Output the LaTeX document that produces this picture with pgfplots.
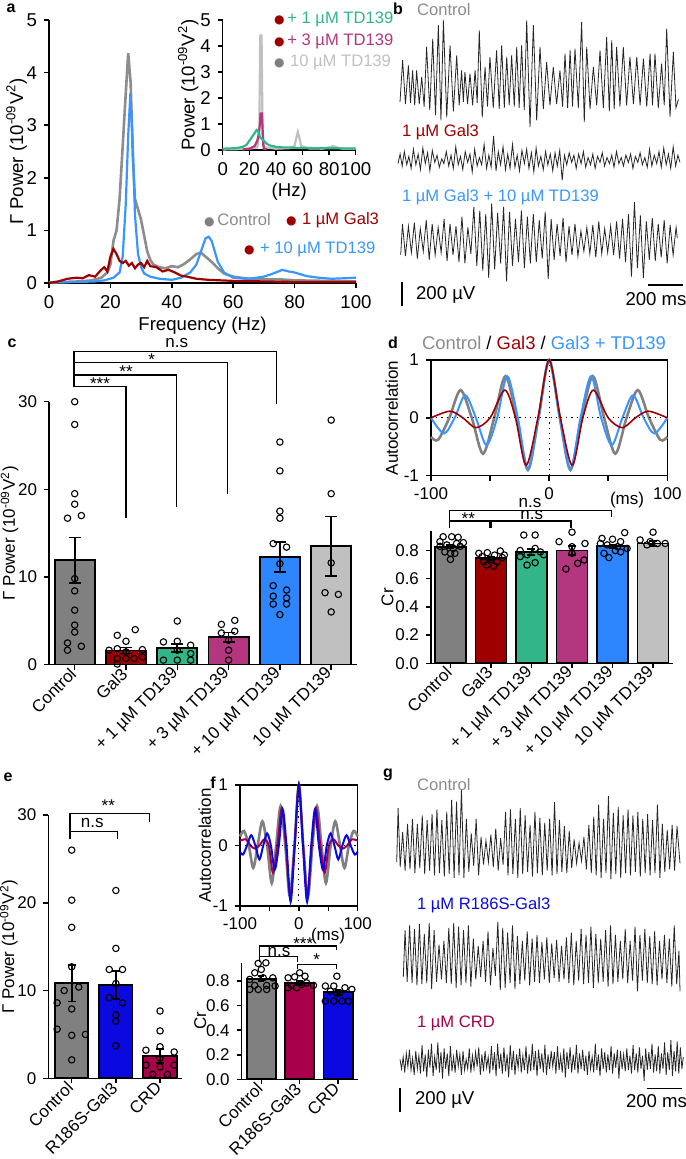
\documentclass[border=0pt]{standalone}
\usepackage{fontspec}
\setmainfont{Liberation Sans}
\newfontfamily\djvfont{DejaVu Sans}
\usepackage{pgfplots}
\pgfplotsset{compat=1.18}

\definecolor{cgray}{HTML}{808080}
\definecolor{cgtxt}{HTML}{8C8C8C}
\definecolor{cred}{HTML}{9E0000}
\definecolor{cgreen}{HTML}{33B58A}
\definecolor{cmag}{HTML}{B3367F}
\definecolor{cblue}{HTML}{2E86FF}
\definecolor{lblue}{HTML}{3A96FF}
\definecolor{clgray}{HTML}{C0C0C0}
\definecolor{rblue}{HTML}{0A0AE0}
\definecolor{crim}{HTML}{A8004A}

\newcommand\fa{\fontsize{9.3}{10}\selectfont}
\newcommand\fb{\fontsize{8.3}{9}\selectfont}
\newcommand\fc{\fontsize{8.5}{9.5}\selectfont}
\newcommand\fl{\fontsize{8}{9}\selectfont\bfseries}
\newcommand\sq[1]{\textsuperscript{#1}}
\newcommand\ldot[1]{\textcolor{#1}{\fontsize{6}{6}\djvfont ●}}

\pgfplotsset{
  base/.style={scale only axis, anchor=south west, clip=false,
    /pgf/number format/assume math mode=true,
    axis line style={line width=0.75pt},
    tick style={black, line width=0.75pt},
    major tick length=2.5pt, tick align=outside,
    tick label style={font=\fc}, label style={font=\fc}},
  rotlab/.style={xticklabel style={rotate=45, anchor=east, inner sep=1pt}},
  bars/.style={ybar, bar shift=0pt, draw=black, line width=0.9pt},
  dots/.style={only marks, mark=o, black, mark size=1.6pt, mark options={line width=0.55pt}},
  err/.style={draw=none, mark=none,
    error bars/y dir=both, error bars/y explicit,
    error bars/error bar style={draw=black, line width=0.9pt},
    error bars/error mark options={draw=black, rotate=90, line width=0.9pt, mark size=#1}},
  trace/.style={scale only axis, anchor=south west, hide axis, clip=false},
  tr/.style={black!85, line width=0.4pt},
}

\begin{document}
\begin{tikzpicture}
\path[use as bounding box] (0,0) rectangle (342.5pt,-579.5pt);

% ---------------- a: spectrum
\begin{axis}[base, at={(49*0.5pt,-283*0.5pt)}, width=153.5pt, height=131.5pt,
  axis lines*=left, xmin=0, xmax=100, ymin=0, ymax=5,
  xtick={0,20,...,100}, ytick={0,1,...,5},
  tick label style={font=\fa}, label style={font=\fa},
  ylabel shift=-7pt, xlabel style={yshift=2.5pt},
  xlabel={Frequency (Hz)}, ylabel={Γ Power (10\sq{-09}V\sq{2})}]
\addplot[cgray!90, line width=1.3pt] coordinates {(0,0.01)(5,0.02)(10,0.03)(14,0.05)(17,0.1)(19,0.2)(20,0.35)(21,0.8)(22,1.0)(23,1.6)(24,2.6)(25,3.6)(25.8,4.37)(26.6,3.8)(27.3,2.4)(28,1.6)(29,1.4)(30,1.2)(31,0.9)(32,0.6)(33,0.44)(34,0.35)(36,0.3)(38,0.28)(40,0.32)(42,0.3)(44,0.36)(46,0.45)(48,0.55)(49.5,0.58)(51,0.5)(53,0.4)(55,0.28)(57,0.18)(60,0.12)(65,0.08)(70,0.07)(75,0.07)(80,0.05)(90,0.04)(100,0.03)};
\addplot[lblue, line width=1.1pt] coordinates {(0,0.01)(10,0.02)(15,0.03)(18,0.05)(21,0.1)(23,0.2)(24,0.5)(25,1.5)(25.8,2.8)(26.5,3.6)(27.2,2.8)(28,1.3)(29,0.55)(30,0.3)(31,0.18)(33,0.12)(36,0.08)(40,0.06)(43,0.1)(46,0.2)(48,0.35)(49.5,0.6)(51,0.85)(52,0.88)(53,0.8)(54,0.6)(55,0.4)(57,0.2)(60,0.1)(65,0.08)(70,0.12)(73,0.18)(76,0.25)(78,0.22)(80,0.2)(84,0.13)(88,0.1)(92,0.08)(96,0.09)(100,0.1)};
\addplot[cred, line width=1.1pt] coordinates {(0,0.0)(3,0.03)(6,0.08)(9,0.1)(11,0.09)(13,0.15)(15,0.12)(17,0.25)(18,0.3)(19,0.22)(20,0.5)(21,0.65)(22,0.55)(23,0.42)(24,0.38)(25,0.42)(26,0.33)(27,0.38)(28,0.28)(29,0.35)(30,0.38)(31,0.3)(32,0.42)(33,0.32)(35,0.3)(37,0.22)(39,0.25)(41,0.2)(43,0.14)(45,0.12)(48,0.08)(52,0.06)(56,0.05)(60,0.04)(70,0.03)(80,0.02)(90,0.02)(100,0.02)};
\end{axis}

\begin{axis}[base, at={(222.7*0.5pt,-150*0.5pt)}, width=66.5pt, height=65pt,
  axis lines*=left, xmin=0, xmax=100, ymin=0, ymax=5,
  xtick={0,20,...,100}, ytick={0,1,...,5},
  tick label style={font=\fa}, label style={font=\fa},
  ylabel shift=-6pt, xlabel style={yshift=3pt},
  xlabel={(Hz)}, ylabel={Power (10\sq{-09}V\sq{2})}]
\addplot[clgray, line width=1.1pt] coordinates {(0,0.02)(10,0.03)(20,0.05)(26,0.1)(27.5,0.6)(28.2,4.4)(29.2,4.4)(30,0.6)(31.5,0.1)(40,0.05)(50,0.07)(54,0.15)(55.5,0.5)(56.5,0.7)(57.5,0.5)(59,0.15)(65,0.06)(75,0.05)(80,0.1)(83,0.15)(86,0.1)(90,0.05)(100,0.05)};
\addplot[cmag, line width=1.1pt] coordinates {(15,0.02)(20,0.05)(24,0.15)(26,0.35)(27,0.6)(28,1.0)(28.5,1.4)(29.5,1.4)(30,0.8)(30.5,0.2)(31,0.05)(33,0.02)};
\addplot[cgreen, line width=1.1pt] coordinates {(0,0.05)(10,0.07)(15,0.12)(18,0.2)(20,0.35)(22,0.5)(24,0.65)(25.5,0.77)(27,0.7)(28,0.5)(29,0.45)(31,0.35)(33,0.25)(35,0.18)(38,0.15)(40,0.12)(45,0.1)(50,0.1)(55,0.08)(60,0.08)(70,0.07)(80,0.07)(90,0.06)(100,0.06)};
\end{axis}

% ---------------- b: traces
\begin{axis}[trace, at={(400*0.5pt,-121*0.5pt)}, width=139.2pt, height=51pt, xmin=0, xmax=1591, ymin=-200, ymax=650]
\addplot[tr] coordinates {(0,-40)(15,306)(31,-60)(48,264)(60,-50)(72,222)(84,-70)(95,222)(110,-60)(124,167)(138,-80)(152,417)(170,-110)(187,486)(203,-150)(219,598)(234,-195)(248,639)(267,-170)(286,431)(305,-120)(324,347)(338,-70)(352,222)(362,-40)(371,208)(386,-60)(400,195)(415,-70)(429,222)(441,-50)(453,556)(470,-170)(486,250)(500,-80)(514,334)(533,-90)(552,389)(567,-100)(581,431)(596,-90)(610,334)(624,-70)(638,347)(653,-80)(667,417)(681,-90)(695,431)(710,-110)(724,639)(743,-250)(762,598)(781,-195)(800,417)(819,-100)(838,292)(857,-70)(876,250)(895,-60)(914,222)(929,-80)(943,361)(958,-90)(972,389)(986,-80)(1000,403)(1019,-90)(1038,625)(1053,-210)(1067,417)(1086,-100)(1105,250)(1124,-70)(1143,389)(1162,-90)(1181,500)(1196,-120)(1210,472)(1224,-100)(1238,417)(1257,-80)(1276,417)(1295,-70)(1314,334)(1334,-60)(1353,334)(1372,-70)(1391,320)(1410,-80)(1429,361)(1443,-70)(1457,361)(1476,-90)(1495,278)(1510,-70)(1524,570)(1543,-165)(1562,375)(1577,-90)(1591,-20)};
\end{axis}
\begin{axis}[trace, at={(398*0.5pt,-186.4*0.5pt)}, width=141pt, height=26.4pt, xmin=0, xmax=1611, ymin=-220, ymax=220]
\addplot[tr] coordinates {(0,-30)(12,50)(24,-50)(36,70)(50,-40)(62,30)(75,-70)(88,90)(102,-40)(115,50)(128,-80)(142,100)(156,-30)(169,60)(182,-90)(196,80)(210,-20)(223,40)(236,-60)(250,10)(262,-30)(276,70)(290,-50)(303,40)(316,-70)(330,110)(344,-40)(357,30)(370,-80)(384,70)(398,-20)(411,50)(424,-100)(438,90)(452,-50)(465,20)(478,-40)(492,130)(506,-70)(519,40)(532,-60)(546,200)(560,-90)(573,70)(586,-40)(600,110)(614,-80)(627,50)(640,-70)(654,130)(668,-60)(681,40)(694,-90)(708,80)(722,-30)(735,90)(748,-70)(762,60)(776,-100)(789,100)(802,-50)(816,30)(830,-80)(843,70)(856,-40)(870,50)(884,-90)(897,60)(910,-50)(924,80)(938,-170)(951,40)(964,-40)(978,60)(992,-20)(1005,40)(1018,-70)(1032,50)(1046,-30)(1059,70)(1072,-60)(1086,20)(1100,-40)(1113,50)(1126,-70)(1140,30)(1154,-20)(1167,60)(1180,-50)(1194,20)(1208,-30)(1221,40)(1234,-60)(1248,70)(1262,-30)(1275,20)(1288,-50)(1302,40)(1316,-20)(1329,50)(1342,-70)(1356,30)(1370,-20)(1383,60)(1396,-40)(1410,20)(1424,-60)(1437,90)(1450,-50)(1464,40)(1478,-30)(1491,70)(1504,-60)(1518,100)(1532,-40)(1545,50)(1558,-70)(1572,110)(1586,-50)(1599,40)(1611,-20)};
\end{axis}
\begin{axis}[trace, at={(400.7*0.5pt,-286.2*0.5pt)}, width=138.3pt, height=43.2pt, xmin=0, xmax=1581, ymin=-360, ymax=360]
\addplot[tr] coordinates {(0,-100)(10,160)(27,-110)(44,140)(61,-80)(78,170)(95,-130)(112,120)(129,-70)(146,190)(163,-140)(180,160)(197,-100)(214,130)(231,-80)(248,200)(265,-150)(282,160)(299,-100)(316,140)(333,-160)(350,220)(367,-170)(384,130)(401,-90)(418,300)(435,-190)(452,270)(469,-230)(486,240)(503,-290)(520,330)(537,-220)(554,250)(571,-170)(588,300)(605,-320)(622,260)(639,-190)(656,200)(673,-160)(690,270)(707,-210)(724,220)(741,-170)(758,240)(775,-160)(792,190)(809,-130)(826,260)(843,-300)(860,200)(877,-140)(894,160)(911,-110)(928,210)(945,-160)(962,140)(979,-100)(996,160)(1013,-110)(1030,100)(1047,-70)(1064,130)(1081,-90)(1098,150)(1115,-120)(1132,180)(1149,-90)(1166,120)(1183,-80)(1200,140)(1217,-100)(1234,180)(1251,-130)(1268,200)(1285,-160)(1302,240)(1319,-280)(1336,340)(1353,-210)(1370,230)(1387,-290)(1404,180)(1421,-140)(1438,210)(1455,-150)(1472,160)(1489,-120)(1506,190)(1523,-170)(1540,150)(1557,-100)(1574,130)(1581,40)};
\end{axis}

% ---------------- c: gamma power bars
\begin{axis}[base, rotlab, at={(49.05*0.5pt,-664.5*0.5pt)}, width=153.9pt, height=131.4pt,
  axis lines*=left, xmin=-0.5, xmax=5.5, ymin=0, ymax=30,
  xtick={0,...,5}, ytick={0,10,20,30},
  xticklabels={Control, Gal3, + 1 µM TD139, + 3 µM TD139, + 10 µM TD139, 10 µM TD139},
  ylabel shift=-7pt,
  ylabel={Γ Power (10\sq{-09}V\sq{2})}]
\addplot[bars, bar width=0.78, fill=cgray] coordinates {(0,11.9)};
\addplot[bars, bar width=0.78, fill=cred] coordinates {(1,1.6)};
\addplot[bars, bar width=0.78, fill=cgreen] coordinates {(2,1.86)};
\addplot[bars, bar width=0.78, fill=cmag] coordinates {(3,3.1)};
\addplot[bars, bar width=0.78, fill=cblue] coordinates {(4,12.3)};
\addplot[bars, bar width=0.78, fill=clgray] coordinates {(5,13.5)};
\addplot[dots] coordinates {(0,30)(0,27.4)(0,19.5)(0,18.3)(0.13,17.0)(-0.14,16.7)(0,9.8)(0,8.4)(0,6.2)(0,4.5)(0,3.7)(-0.14,2.46)(0.13,2.08)(-0.14,1.63)
 (0.67,1.63)(0.83,3.33)(1,2.65)(1.18,3.98)(0.83,1.8)(1.32,1.7)(0.83,0.68)(1,0.68)(1.16,0.68)(1.32,0.87)(0.83,0.05)(1,1.44)
 (2,4.96)(1.73,2.58)(2,2.65)(2.26,2.2)(2,1.63)(2.26,1.25)(1.73,0.5)(2,0.5)(2.26,0.5)
 (2.86,4.58)(3.12,5.04)(2.86,3.6)(3.12,3.8)(3,2.77)(3,1.63)(3,0.5)
 (4,25.4)(4,22.1)(4,17.5)(4,16.7)(3.87,13.8)(4.13,13.4)(4,11.5)(3.87,9.0)(4.13,8.5)(3.87,7.8)(4.13,7.6)(3.87,6.9)(4.13,6.9)(4,5.7)
 (5,27.9)(5,19.5)(5,11.6)(4.88,8.2)(5.14,8.0)(5,6.0)};
\addplot[err=3pt] coordinates {(0,11.9) +- (0,2.6) (1,1.6) +- (0,0.35) (2,1.86) +- (0,0.45) (3,3.1) +- (0,0.55) (4,12.3) +- (0,1.7) (5,13.5) +- (0,3.4)};
\end{axis}

% ---------------- d: autocorrelation
\begin{axis}[base, at={(431*0.5pt,-475.7*0.5pt)}, width=118.15pt, height=57.85pt,
  xmin=-100, xmax=100, ymin=-1, ymax=1,
  xtick={-100,-50,0,50,100}, xticklabels={-100,,0,,100}, ytick={-1,0,1},
  xtick pos=bottom, ytick pos=left, ylabel shift=-4pt,
  ylabel={Autocorrelation}]
\addplot[cgray, line width=1.3pt, smooth] coordinates {(-100,-0.33)(-94,-0.38)(-84.5,0)(-75,0.48)(-65.5,0)(-56,-0.62)(-46.5,0)(-37,0.72)(-27.5,0)(-18,-0.9)(-9,0)(0,1)(9,0)(18,-0.9)(27.5,0)(37,0.72)(46.5,0)(56,-0.62)(65.5,0)(75,0.48)(84.5,0)(94,-0.38)(100,-0.33)};
\addplot[lblue, line width=1pt, smooth] coordinates {(-100,0)(-89,-0.27)(-80,0)(-71,0.39)(-62,0)(-53,-0.47)(-44,0)(-35.5,0.72)(-26.5,0)(-18,-0.88)(-9,0)(0,1)(9,0)(18,-0.88)(26.5,0)(35.5,0.72)(44,0)(53,-0.47)(62,0)(71,0.39)(80,0)(89,-0.27)(100,0)};
\addplot[cred, line width=0.8pt, smooth] coordinates {(-100,0)(-84,0.115)(-73,0)(-62,-0.17)(-50,0)(-37.5,0.48)(-28.5,0)(-19.5,-0.82)(-9.5,0)(0,1)(9.5,0)(19.5,-0.82)(28.5,0)(37.5,0.48)(50,0)(62,-0.17)(73,0)(84,0.115)(100,0)};
\draw[dotted, line width=0.6pt] (axis cs:-100,0) -- (axis cs:100,0);
\draw[dotted, line width=0.6pt] (axis cs:0,-1) -- (axis cs:0,1);
\end{axis}

\begin{axis}[base, rotlab, at={(431*0.5pt,-663.3*0.5pt)}, width=121.15pt, height=66.25pt,
  axis lines*=left, xmin=-0.48, xmax=5.5, ymin=0, ymax=0.94,
  xtick={0,...,5}, ytick={0,0.2,0.4,0.6,0.8}, yticklabels={0.0,0.2,0.4,0.6,0.8},
  xticklabels={Control, Gal3, + 1 µM TD139, + 3 µM TD139, + 10 µM TD139, 10 µM TD139},
  ylabel shift=-6pt,
  ylabel={Cr}]
\addplot[bars, bar width=0.765, fill=cgray] coordinates {(0,0.827)};
\addplot[bars, bar width=0.765, fill=cred] coordinates {(1,0.745)};
\addplot[bars, bar width=0.765, fill=cgreen] coordinates {(2,0.79)};
\addplot[bars, bar width=0.765, fill=cmag] coordinates {(3,0.80)};
\addplot[bars, bar width=0.765, fill=cblue] coordinates {(4,0.83)};
\addplot[bars, bar width=0.765, fill=clgray] coordinates {(5,0.85)};
\addplot[dots] coordinates {(-0.18,0.898)(0.03,0.898)(0.19,0.894)(-0.26,0.863)(0.32,0.856)(-0.09,0.84)(0.07,0.815)(0,0.78)(0,0.737)(0.24,0.83)(-0.26,0.83)(0.15,0.85)(-0.14,0.79)(0.11,0.78)
 (0.7,0.78)(0.91,0.785)(1.23,0.797)(1.09,0.768)(1.33,0.768)(0.78,0.757)(1,0.737)(1.15,0.72)(0.89,0.697)(1.07,0.69)(1.28,0.75)(0.82,0.72)
 (1.81,0.91)(2.09,0.91)(1.72,0.80)(2.09,0.815)(1.89,0.77)(2.3,0.77)(1.72,0.757)(2.09,0.714)(1.89,0.697)(2.22,0.79)
 (3,0.93)(2.68,0.863)(3.32,0.85)(3,0.827)(3,0.78)(3.3,0.733)(3.14,0.709)(2.85,0.669)
 (4.3,0.927)(3.74,0.886)(4,0.88)(4.2,0.863)(3.7,0.85)(3.87,0.84)(4.36,0.815)(4.07,0.80)(4.2,0.79)(3.79,0.78)(3.91,0.75)(4.12,0.827)
 (5,0.93)(4.68,0.875)(4.93,0.863)(5.11,0.85)(5.3,0.85)(4.85,0.84)};
\addplot[err=2pt] coordinates {(0,0.827) +- (0,0.012) (1,0.745) +- (0,0.012) (2,0.79) +- (0,0.02) (3,0.80) +- (0,0.03) (4,0.83) +- (0,0.012) (5,0.85) +- (0,0.015)};
\end{axis}

% ---------------- e
\begin{axis}[base, rotlab, at={(48.3*0.5pt,-1078.3*0.5pt)}, width=66.7pt, height=131.65pt,
  axis lines*=left, xmin=-0.53, xmax=2.49, ymin=0, ymax=30,
  xtick={0,1,2}, ytick={0,10,20,30},
  xticklabels={Control, R186S-Gal3, CRD},
  ylabel shift=-7pt,
  ylabel={Γ Power (10\sq{-09}V\sq{2})}]
\addplot[bars, bar width=0.755, fill=cgray] coordinates {(0,10.85)};
\addplot[bars, bar width=0.755, fill=rblue] coordinates {(1,10.6)};
\addplot[bars, bar width=0.755, fill=crim] coordinates {(2,2.55)};
\addplot[dots] coordinates {(0,26.0)(0,20.3)(0,17.2)(0,12.7)(-0.17,10.0)(0.16,10.4)(-0.33,8.6)(0,7.9)(-0.33,5.6)(0,4.9)(0.31,5.0)(0,2.1)
 (1,21.4)(1,14.8)(0.85,12.4)(1.15,12.4)(1,10.8)(0.85,9.2)(1.15,8.6)(1,7.2)(1,6.5)(1,3.7)
 (2,7.67)(2,5.4)(2,3.6)(1.68,3.2)(2.32,3.0)(2,2.3)(1.68,1.5)(2.32,1.5)(1.83,0.46)(2.17,0.46)(2,1.3)};
\addplot[err=2pt] coordinates {(0,10.85) +- (0,2.1) (1,10.6) +- (0,1.6) (2,2.55) +- (0,0.8)};
\end{axis}

% ---------------- f
\begin{axis}[base, at={(240*0.5pt,-906*0.5pt)}, width=58.85pt, height=60.5pt,
  xmin=-100, xmax=100, ymin=-1, ymax=1,
  xtick={-100,-50,0,50,100}, xticklabels={-100,,0,,100}, ytick={-1,0,1},
  xtick pos=bottom, ytick pos=left, ylabel shift=-6pt,
  ylabel={Autocorrelation}]
\addplot[cgray, line width=1.3pt, smooth] coordinates {(-100,0.15)(-93,0.24)(-85,0)(-77.5,-0.37)(-70,0)(-62,0.4)(-54,0)(-46,-0.62)(-38.5,0)(-31,0.65)(-23,0)(-15.5,-0.84)(-7.5,0)(0,1)(7.5,0)(15.5,-0.84)(23,0)(31,0.65)(38.5,0)(46,-0.62)(54,0)(62,0.4)(70,0)(77.5,-0.37)(85,0)(93,0.24)(100,0.15)};
\addplot[crim, line width=1pt, smooth] coordinates {(-100,0.08)(-90,0.1)(-82,0)(-75,-0.05)(-67,0)(-59,0.1)(-51,0)(-44,-0.45)(-36.5,0)(-29,0.62)(-22,0)(-14.5,-0.85)(-7.2,0)(0,1)(7.2,0)(14.5,-0.85)(22,0)(29,0.62)(36.5,0)(44,-0.45)(51,0)(59,0.1)(67,0)(75,-0.05)(82,0)(90,0.1)(100,0.08)};
\addplot[rblue, line width=1pt, smooth] coordinates {(-100,-0.1)(-95,-0.15)(-88,0)(-81,0.17)(-74,0)(-67,-0.23)(-60.5,0)(-54,0.2)(-47.5,0)(-41,-0.4)(-34,0)(-27.5,0.6)(-21,0)(-14,-0.93)(-7,0)(0,1)(7,0)(14,-0.93)(21,0)(27.5,0.6)(34,0)(41,-0.4)(47.5,0)(54,0.2)(60.5,0)(67,-0.23)(74,0)(81,0.17)(88,0)(95,-0.15)(100,-0.1)};
\draw[dotted, line width=0.6pt] (axis cs:-100,0) -- (axis cs:100,0);
\draw[dotted, line width=0.6pt] (axis cs:0,-1) -- (axis cs:0,1);
\end{axis}

\begin{axis}[base, rotlab, at={(241.7*0.5pt,-1079.3*0.5pt)}, width=58.15pt, height=58.3pt,
  axis lines*=left, xmin=-0.51, xmax=2.52, ymin=0, ymax=0.95,
  xtick={0,1,2}, ytick={0,0.2,0.4,0.6,0.8}, yticklabels={0.0,0.2,0.4,0.6,0.8},
  xticklabels={Control, R186S-Gal3, CRD},
  ylabel shift=-7pt,
  ylabel={Cr}]
\addplot[bars, bar width=0.76, fill=cgray] coordinates {(0,0.82)};
\addplot[bars, bar width=0.76, fill=crim] coordinates {(1,0.786)};
\addplot[bars, bar width=0.76, fill=rblue] coordinates {(2,0.71)};
\addplot[dots] coordinates {(-0.08,0.944)(0.12,0.949)(-0.17,0.868)(0,0.895)(0.05,0.827)(0.3,0.827)(-0.3,0.814)(-0.17,0.765)(0.14,0.765)(-0.3,0.732)(-0.08,0.732)(0.14,0.732)(0.36,0.76)
 (1,0.868)(0.7,0.827)(0.87,0.835)(1.14,0.84)(0.78,0.765)(1.05,0.773)(1.36,0.765)(0.7,0.746)(0.92,0.746)(1.18,0.786)
 (1.97,0.84)(1.67,0.76)(1.89,0.76)(2.18,0.746)(1.8,0.719)(2.36,0.732)(2.05,0.705)(1.67,0.637)(1.89,0.637)(2.1,0.637)(2.27,0.637)(1.97,0.7)};
\addplot[err=1.6pt] coordinates {(0,0.82) +- (0,0.02) (1,0.786) +- (0,0.015) (2,0.71) +- (0,0.02)};
\end{axis}

% ---------------- g: traces
\begin{axis}[trace, at={(396.7*0.5pt,-879*0.5pt)}, width=141.65pt, height=45.6pt, xmin=0, xmax=1619, ymin=-200, ymax=560]
\addplot[tr] coordinates {(0,-60)(8,390)(20,-100)(34,190)(48,-130)(62,260)(76,-120)(90,300)(104,-150)(118,260)(132,-110)(146,330)(160,-160)(174,290)(188,-130)(202,340)(216,-170)(230,380)(244,-150)(258,290)(272,-180)(286,360)(300,-160)(314,460)(328,-190)(342,445)(356,-170)(370,550)(384,-190)(398,300)(412,-140)(426,180)(440,-90)(454,300)(468,-170)(482,150)(496,-80)(510,120)(524,-60)(538,170)(552,-100)(566,220)(580,-130)(594,140)(608,-80)(622,360)(636,-170)(650,380)(664,-160)(678,300)(692,-190)(706,390)(720,-160)(734,330)(748,-140)(762,250)(776,-180)(790,360)(804,-150)(818,310)(832,-170)(846,270)(860,-130)(874,300)(888,-170)(902,440)(916,-160)(930,290)(944,-140)(958,240)(972,-150)(986,200)(1000,-110)(1014,130)(1028,-70)(1042,100)(1056,-50)(1070,150)(1084,-120)(1098,250)(1112,-150)(1126,320)(1140,-170)(1154,420)(1168,-190)(1182,300)(1196,-150)(1210,490)(1224,-200)(1238,350)(1252,-160)(1266,400)(1280,-190)(1294,330)(1308,-150)(1322,380)(1336,-170)(1350,330)(1364,-140)(1378,360)(1392,-180)(1406,300)(1420,-150)(1434,340)(1448,-170)(1462,290)(1476,-150)(1490,420)(1504,-190)(1518,260)(1532,-140)(1546,210)(1560,-120)(1574,250)(1588,-130)(1602,240)(1619,-70)};
\end{axis}
\begin{axis}[trace, at={(403.3*0.5pt,-993.8*0.5pt)}, width=138.35pt, height=36pt, xmin=0, xmax=1581, ymin=-240, ymax=360]
\addplot[tr] coordinates {(0,-100)(10,290)(22,-140)(36,330)(50,-150)(64,300)(78,-170)(92,340)(106,-160)(120,260)(134,-150)(148,350)(162,-200)(176,290)(190,-140)(204,170)(218,-120)(232,200)(246,-150)(260,310)(274,-160)(288,350)(302,-190)(316,320)(330,-170)(344,290)(358,-150)(372,330)(386,-180)(400,220)(414,-120)(428,160)(442,-100)(456,200)(470,-140)(484,280)(498,-170)(512,140)(526,-90)(540,360)(554,-210)(568,310)(582,-190)(596,270)(610,-150)(624,330)(638,-200)(652,240)(666,-160)(680,200)(694,-130)(708,280)(722,-170)(736,220)(750,-140)(764,250)(778,-150)(792,190)(806,-120)(820,230)(834,-150)(848,180)(862,-110)(876,210)(890,-140)(904,160)(918,-120)(932,230)(946,-150)(960,270)(974,-170)(988,200)(1002,-130)(1016,300)(1030,-160)(1044,250)(1058,-150)(1072,320)(1086,-190)(1100,260)(1114,-150)(1128,220)(1142,-140)(1156,290)(1170,-180)(1184,330)(1198,-160)(1212,250)(1226,-140)(1240,200)(1254,-120)(1268,300)(1282,-150)(1296,200)(1310,-130)(1324,320)(1338,-220)(1352,250)(1366,-130)(1380,300)(1394,-150)(1408,240)(1422,-160)(1436,280)(1450,-170)(1464,200)(1478,-120)(1492,250)(1506,-150)(1520,220)(1534,-180)(1548,330)(1562,-160)(1575,120)(1581,-220)};
\end{axis}
\begin{axis}[trace, at={(400*0.5pt,-1085.7*0.5pt)}, width=141.65pt, height=24pt, xmin=0, xmax=1619, ymin=-200, ymax=200]
\addplot[tr] coordinates {(0,20)(9,-60)(18,40)(27,-90)(36,70)(45,-40)(54,100)(63,-70)(72,30)(81,-110)(90,90)(99,-60)(108,50)(117,-100)(126,140)(135,-80)(144,60)(153,-130)(162,100)(171,-50)(180,150)(189,-120)(198,40)(207,-70)(216,160)(225,-90)(234,80)(243,-140)(252,110)(261,-60)(270,70)(279,-120)(288,130)(297,-80)(306,40)(315,-90)(324,100)(333,-40)(342,60)(351,-110)(360,90)(369,-70)(378,20)(387,-60)(396,110)(405,-90)(414,50)(423,-60)(432,80)(441,-40)(450,120)(459,-110)(468,60)(477,-80)(486,90)(495,-50)(504,40)(513,-100)(522,130)(531,-70)(540,80)(549,-120)(558,150)(567,-60)(576,70)(585,-100)(594,120)(603,-80)(612,60)(621,-130)(630,140)(639,-70)(648,90)(657,-110)(666,60)(675,-50)(684,110)(693,-90)(702,50)(711,-70)(720,130)(729,-100)(738,60)(747,-80)(756,150)(765,-70)(774,90)(783,-120)(792,100)(801,-60)(810,70)(819,-90)(828,140)(837,-110)(846,60)(855,-60)(864,90)(873,-40)(882,80)(891,-100)(900,130)(909,-70)(918,50)(927,-90)(936,110)(945,-130)(954,80)(963,-60)(972,120)(981,-90)(990,60)(999,-70)(1008,140)(1017,-100)(1026,70)(1035,-60)(1044,100)(1053,-80)(1062,50)(1071,-110)(1080,90)(1089,-60)(1098,40)(1107,-90)(1116,150)(1125,-70)(1134,60)(1143,-120)(1152,110)(1161,-60)(1170,80)(1179,-90)(1188,60)(1197,-70)(1206,130)(1215,-100)(1224,70)(1233,-50)(1242,100)(1251,-140)(1260,90)(1269,-60)(1278,60)(1287,-80)(1296,110)(1305,-70)(1314,50)(1323,-100)(1332,140)(1341,-70)(1350,70)(1359,-90)(1368,120)(1377,-60)(1386,50)(1395,-160)(1404,110)(1413,-70)(1422,80)(1431,-60)(1440,150)(1449,-90)(1458,60)(1467,-80)(1476,130)(1485,-100)(1494,70)(1503,-60)(1512,160)(1521,-110)(1530,80)(1539,-70)(1548,180)(1557,-120)(1566,90)(1575,-80)(1584,170)(1593,-100)(1602,120)(1611,-60)(1619,40)};
\end{axis}

% ---------------- annotations, in pixel units of the reference
\begin{scope}[x=0.5pt,y=-0.5pt]
% a legends
\node[anchor=west, font=\fb] at (267,19) {\ldot{cred}\,\textcolor{cgreen}{+ 1 µM TD139}};
\node[anchor=west, font=\fb] at (267,41.5) {\ldot{cred}\,\textcolor{cmag}{+ 3 µM TD139}};
\node[anchor=west, font=\fb] at (267,62.5) {\ldot{cgray}\,\,\textcolor{clgray}{10 µM TD139}};
\node[anchor=west, font=\fb] at (197,220) {\ldot{cgray}\,\textcolor{cgtxt}{Control}};
\node[anchor=west, font=\fb] at (279,220) {\ldot{cred}\,\,\textcolor{cred}{1 µM Gal3}};
\node[anchor=west, font=\fb] at (237,249) {\ldot{cred}\,\,\textcolor{lblue}{+ 10 µM TD139}};
% b
\node[anchor=west, font=\fb, text=cgtxt] at (410,10) {Control};
\node[anchor=west, font=\fb, text=cred] at (395,132) {1 µM Gal3};
\node[anchor=west, font=\fb, text=lblue] at (395,197) {1 µM Gal3 + 10 µM TD139};
\draw[line width=0.8pt] (401.7,282) -- (401.7,306);
\node[anchor=west, font=\fa] at (409,295) {200 µV};
\draw[line width=0.8pt] (647.7,285) -- (683,285);
\node[font=\fa] at (656,299) {200 ms};
% c
\begin{scope}[line width=0.65pt]
\draw (74,387.3) -- (74,351.7) -- (276.7,351.7) -- (276.7,404);
\draw (74,362.7) -- (227.7,362.7) -- (227.7,494);
\draw (74,375) -- (176.7,375) -- (176.7,506.7);
\draw (74,386.7) -- (126,386.7) -- (126,518.3);
\end{scope}
\node[font=\fc] at (176.7,343) {n.s};
\node[font=\fc] at (151.7,360) {*};
\node[font=\fc] at (126,372) {**};
\node[font=\fc] at (100,384) {***};
% d
\node[font=\fontsize{9.2}{10}\selectfont] at (544,343) {\textcolor{cgtxt}{Control} / \textcolor{cred}{Gal3} / \textcolor{lblue}{Gal3 + TD139}};
\node[font=\fc] at (627,500) {(ms)};
\begin{scope}[line width=0.6pt]
\draw (449.3,528.3) -- (449.3,510.7) -- (611.7,510.7) -- (611.7,516.7);
\draw (449.3,521) -- (490,521) -- (490,528.3);
\draw (491.7,528.3) -- (491.7,521) -- (571,521) -- (571,528.3);
\end{scope}
\node[font=\fc] at (530,503) {n.s};
\node[font=\fc] at (531.7,515.5) {n.s};
\node[font=\fc] at (468.3,519) {**};
% e
\begin{scope}[line width=0.65pt]
\draw (70,839.3) -- (70,813.3) -- (149.3,813.3) -- (149.3,821.7);
\draw (70,831.7) -- (117.7,831.7) -- (117.7,839.3);
\end{scope}
\node[font=\fc] at (108.3,806) {**};
\node[font=\fc] at (92.3,823) {n.s};
% f
\node[font=\fc] at (328,936) {(ms)};
\begin{scope}[line width=0.6pt]
\draw (259.3,961.7) -- (259.3,946) -- (336.7,946) -- (336.7,950);
\draw (259.3,956.7) -- (297.7,956.7) -- (297.7,961.7);
\draw (297.7,969.3) -- (297.7,964.3) -- (336.7,964.3) -- (336.7,969.3);
\end{scope}
\node[font=\fc] at (303.3,944) {***};
\node[font=\fc] at (279,952) {n.s};
\node[font=\fc] at (316.7,960) {*};
% g
\node[anchor=west, font=\fb, text=cgtxt] at (410,785) {Control};
\node[anchor=west, font=\fb, text=rblue] at (410,905) {1 µM R186S-Gal3};
\node[anchor=west, font=\fb, text=crim] at (410,1023) {1 µM CRD};
\draw[line width=0.8pt] (400,1088) -- (400,1112);
\node[anchor=west, font=\fa] at (408,1100) {200 µV};
\draw[line width=0.8pt] (646.7,1088.3) -- (681.7,1088.3);
\node[font=\fa] at (656.5,1101) {200 ms};
% panel letters
\node[font=\fl] at (11,8) {a};
\node[font=\fl] at (398,9) {b};
\node[font=\fl] at (12,343) {c};
\node[font=\fl] at (393,343) {d};
\node[font=\fl] at (8,777) {e};
\node[font=\fl] at (213,783) {f};
\node[font=\fl] at (388,775) {g};
\end{scope}
\end{tikzpicture}
\end{document}
